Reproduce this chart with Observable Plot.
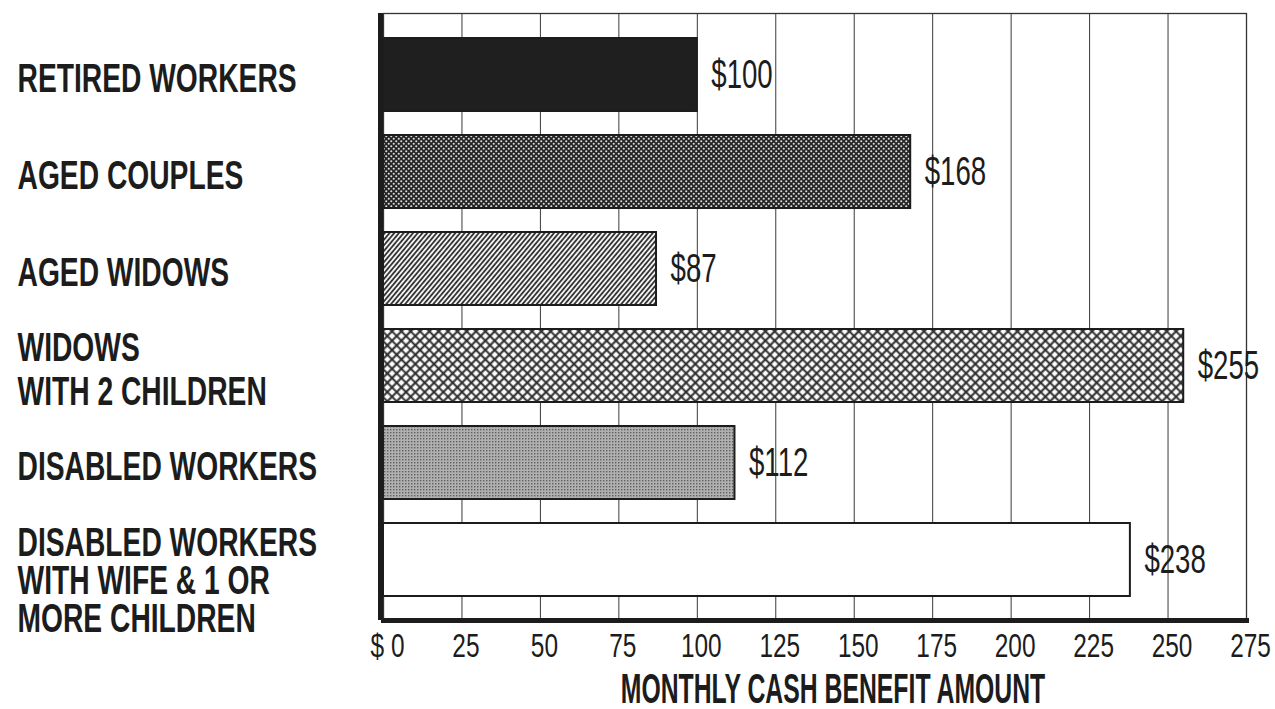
<!DOCTYPE html>
<html><head><meta charset="utf-8">
<script src="https://cdn.jsdelivr.net/npm/d3@7"></script>
<script src="https://cdn.jsdelivr.net/npm/@observablehq/plot@0.6"></script>
<style>
html,body{margin:0;padding:0;background:#fff;}
#chart{width:1275px;height:709px;}
</style></head><body>
<svg width="0" height="0" style="position:absolute">
<defs>
 <pattern id="p-dots" width="5" height="5" patternUnits="userSpaceOnUse">
   <rect width="5" height="5" fill="#262626"/>
   <circle cx="1.25" cy="1.25" r="1.05" fill="#dcdcdc"/>
   <circle cx="3.75" cy="3.75" r="1.05" fill="#dcdcdc"/>
 </pattern>
 <pattern id="p-hatch" width="3.6" height="10" patternUnits="userSpaceOnUse" patternTransform="rotate(40)">
   <rect width="3.6" height="10" fill="#f2f2f2"/>
   <line x1="1.8" y1="0" x2="1.8" y2="10" stroke="#2a2a2a" stroke-width="1.7"/>
 </pattern>
 <pattern id="p-cross" width="6.6" height="6.6" patternUnits="userSpaceOnUse" patternTransform="rotate(45)">
   <rect width="6.6" height="6.6" fill="#fafafa"/>
   <path d="M3.3 0V6.6M0 3.3H6.6" stroke="#2a2a2a" stroke-width="2"/>
 </pattern>
 <pattern id="p-stipple" width="3" height="3" patternUnits="userSpaceOnUse">
   <rect width="3" height="3" fill="#b0b0b0"/>
   <rect x="0" y="0" width="1.4" height="1.4" fill="#606060"/>
 </pattern>
</defs></svg>
<div id="chart"></div>
<script>
// ---- data ----
const categories = [
  "RETIRED WORKERS",
  "AGED COUPLES",
  "AGED WIDOWS",
  "WIDOWS\nWITH 2 CHILDREN",
  "DISABLED WORKERS",
  "DISABLED WORKERS\nWITH WIFE & 1 OR\nMORE CHILDREN"
];
const benefits = [100, 168, 87, 255, 112, 238];
const valueLabels = ["$100", "$168", "$87", "$255", "$112", "$238"];
const xTicks = [0, 25, 50, 75, 100, 125, 150, 175, 200, 225, 250, 275];
const xTickLabels = ["$ 0", "25", "50", "75", "100", "125", "150", "175", "200", "225", "250", "275"];
const xTitle = "MONTHLY CASH BENEFIT AMOUNT";

// ---- styles ----
const barFills = ["#1f1f1f", "url(#p-dots)", "url(#p-hatch)", "url(#p-cross)", "url(#p-stipple)", "#ffffff"];
const ink = "#1c1c1c";

const rows = categories.map((c, i) => ({
  category: c, benefit: benefits[i], label: valueLabels[i], lines: c.split("\n").length
}));
const gridTicks = xTicks.filter(t => t > 0 && t < 275);

const chart = Plot.plot({
  width: 1275, height: 709,
  marginLeft: 383, marginRight: 29, marginTop: 13, marginBottom: 89,
  style: {fontFamily: "'Liberation Sans', Arial, sans-serif", background: "#fff", color: ink},
  x: {domain: [0, 275], axis: null},
  y: {domain: categories, axis: null, paddingInner: 0.25, paddingOuter: 0.245},
  color: {type: "identity"},
  marks: [
    Plot.ruleX(gridTicks, {stroke: "#3a3a3a", strokeWidth: 1}),
    Plot.frame({stroke: "#333", strokeWidth: 1.3}),
    Plot.barX(rows, {x: "benefit", y: "category", fill: (d, i) => barFills[i], stroke: ink, strokeWidth: 2}),
    Plot.frame({anchor: "bottom", stroke: ink, strokeWidth: 5}),
    Plot.ruleX([0], {stroke: ink, strokeWidth: 5, dx: -3}),
    Plot.axisX(xTicks, {tickSize: 0, tickPadding: 13, tickFormat: d => xTickLabels[xTicks.indexOf(d)], fontSize: 33, dx: 4, label: null}),
    Plot.text(rows, {x: "benefit", y: "category", text: "label", dx: 14, textAnchor: "start", fontSize: 40, fill: ink}),
    Plot.text(rows, {filter: d => d.lines < 3, y: "category", text: "category", frameAnchor: "left", dx: -366, dy: 3, textAnchor: "start", fontSize: 41.5, fontWeight: "bold", lineHeight: 1.05, fill: ink}),
    Plot.text(rows, {filter: d => d.lines >= 3, y: "category", text: "category", frameAnchor: "left", dx: -366, dy: 22, textAnchor: "start", fontSize: 41.5, fontWeight: "bold", lineHeight: 0.92, fill: ink}),
    Plot.text([xTitle], {frameAnchor: "bottom", lineAnchor: "middle", dx: 18, dy: 69, fontSize: 42, fontWeight: "bold", fill: ink})
  ]
});
document.getElementById("chart").append(chart);

// horizontal condensing of lettering (style only)
const squeeze = {"33": 0.74, "40": 0.69, "41.5": 0.68, "42": 0.59};
chart.querySelectorAll("text").forEach(t => {
  const g = t.closest("[font-size]");
  const fs = g ? String(parseFloat(g.getAttribute("font-size"))) : null;
  const k = squeeze[fs];
  if (!k) return;
  const parts = t.querySelectorAll("tspan");
  const els = parts.length ? Array.from(parts) : [t];
  els.forEach(el => {
    const L = el.getComputedTextLength();
    if (L > 0) {
      el.setAttribute("textLength", (L * k).toFixed(1));
      el.setAttribute("lengthAdjust", "spacingAndGlyphs");
    }
  });
});
</script>
</body></html>
